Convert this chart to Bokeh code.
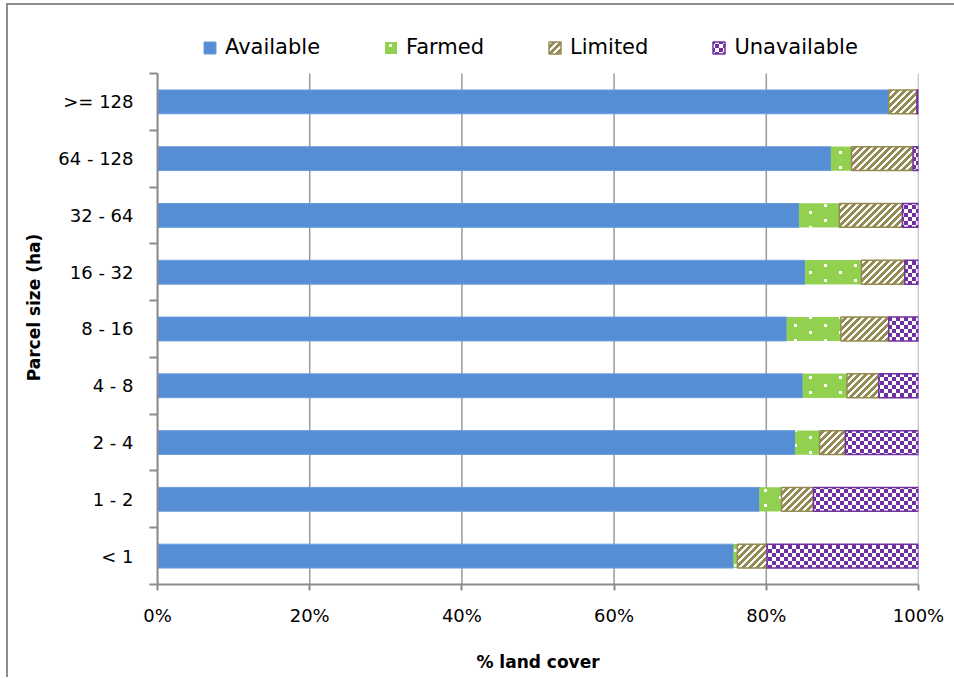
import zlib, struct, base64
from bokeh.plotting import figure
from bokeh.models import (Range1d, FixedTicker, Legend, LegendItem, ColumnDataSource,
                          ImageURLTexture, PrintfTickFormatter)
from bokeh.core.properties import value
from bokeh.embed import file_html
from bokeh.resources import INLINE

# ---- data (percent of land cover) ----
categories = ["< 1", "1 - 2", "2 - 4", "4 - 8", "8 - 16", "16 - 32", "32 - 64", "64 - 128", ">= 128"]
available = [75.7, 79.1, 83.8, 84.8, 82.7, 85.1, 84.3, 88.5, 96.1]
farmed = [0.5, 2.9, 3.2, 5.8, 7.1, 7.4, 5.3, 2.7, 0.0]
limited = [3.9, 4.2, 3.4, 4.2, 6.3, 5.7, 8.3, 8.1, 3.7]
unavailable = [19.9, 13.8, 9.6, 5.2, 3.9, 1.8, 2.1, 0.7, 0.2]
series_names = ["Available", "Farmed", "Limited", "Unavailable"]
x_ticks = [0, 20, 40, 60, 80, 100]

FONT = "DejaVu Sans"
AXIS_GRAY = "#8c8c8c"
N = len(categories)
TOP_PAD = 0.757  # room above the bars (in category units) for the legend


def png_data_url(w, h, pixel_fn):
    raw = bytearray()
    for yy in range(h):
        raw += b"\x00"
        for xx in range(w):
            raw += bytes(pixel_fn(xx, yy))

    def chunk(t, d):
        c = struct.pack(">I", len(d)) + t + d
        return c + struct.pack(">I", zlib.crc32(t + d) & 0xffffffff)

    png = (b"\x89PNG\r\n\x1a\n"
           + chunk(b"IHDR", struct.pack(">IIBBBBB", w, h, 8, 6, 0, 0, 0))
           + chunk(b"IDAT", zlib.compress(bytes(raw)))
           + chunk(b"IEND", b""))
    return "data:image/png;base64," + base64.b64encode(png).decode()


GREEN = (146, 208, 80, 255)
WHITE = (255, 255, 255, 255)
PURPLE = (112, 48, 160, 255)
OLIVE = (148, 138, 84, 255)
DOTS = [(6, 4), (21, 11), (6, 19), (21, 26)]


def farm_px(x, y):
    for dx, dy in DOTS:
        if dx <= x < dx + 3 and dy <= y < dy + 3:
            return WHITE
    return GREEN


def check_px(x, y):
    return PURPLE if ((x // 4) + (y // 4)) % 2 == 0 else WHITE


def stripe_px(x, y):
    # "/" stripes, period 7 px, ~half olive
    return OLIVE if ((x + y) % 7) < 4 else WHITE


farm_tex = ImageURLTexture(url=png_data_url(30, 30, farm_px))
check_tex = ImageURLTexture(url=png_data_url(8, 8, check_px))
stripe_tex = ImageURLTexture(url=png_data_url(7, 7, stripe_px))

centers = [i + 0.5 for i in range(N)]
bounds = [float(i) for i in range(N + 1)]

data = {"y": centers}
cum = [0.0] * N
for name, vals in zip(series_names, [available, farmed, limited, unavailable]):
    data[name + "_l"] = list(cum)
    cum = [c + v for c, v in zip(cum, vals)]
    data[name + "_r"] = list(cum)
src = ColumnDataSource(data)

p = figure(frame_width=761, frame_height=554, x_range=Range1d(0, 100), y_range=Range1d(0, N + TOP_PAD),
           output_backend="svg", toolbar_location=None,
           min_border_left=149, min_border_right=36, min_border_top=25, min_border_bottom=93)
p.outline_line_color = None
p.background_fill_color = "white"
p.border_fill_color = "white"
p.styles = {"margin-left": "6px", "margin-top": "3px",
            "border-left": "2px solid #8c8c8c", "border-top": "2px solid #8c8c8c"}

# x axis
p.xaxis.ticker = FixedTicker(ticks=x_ticks)
p.xaxis.formatter = PrintfTickFormatter(format="%d%%")
p.xaxis.axis_line_color = AXIS_GRAY
p.xaxis.axis_line_width = 2
p.xaxis.major_tick_line_color = AXIS_GRAY
p.xaxis.major_tick_line_width = 2
p.xaxis.major_tick_out = 6
p.xaxis.major_tick_in = 0
p.xaxis.minor_tick_line_color = None
p.xaxis.major_label_text_font = FONT
p.xaxis.major_label_text_font_size = "18px"
p.xaxis.major_label_text_color = "black"
p.xaxis.major_label_standoff = 14
p.xaxis.axis_label = "% land cover"
p.xaxis.axis_label_text_font = FONT
p.xaxis.axis_label_text_font_style = "bold"
p.xaxis.axis_label_text_font_size = "17px"
p.xaxis.axis_label_text_color = "black"
p.xaxis.axis_label_standoff = 23

# y axis
p.yaxis.bounds = (0, N)
p.yaxis.ticker = FixedTicker(ticks=centers, minor_ticks=bounds)
p.yaxis.major_label_overrides = {c: lab for c, lab in zip(centers, categories)}
p.yaxis.axis_line_color = AXIS_GRAY
p.yaxis.axis_line_width = 2
p.yaxis.major_tick_line_color = None
p.yaxis.major_tick_out = 0
p.yaxis.major_tick_in = 0
p.yaxis.minor_tick_line_color = AXIS_GRAY
p.yaxis.minor_tick_line_width = 2
p.yaxis.minor_tick_out = 8
p.yaxis.minor_tick_in = 0
p.yaxis.major_label_text_font = FONT
p.yaxis.major_label_text_font_size = "18px"
p.yaxis.major_label_text_color = "black"
p.yaxis.major_label_standoff = 16
p.yaxis.axis_label = "Parcel size (ha)"
p.yaxis.axis_label_text_font = FONT
p.yaxis.axis_label_text_font_style = "bold"
p.yaxis.axis_label_text_font_size = "17px"
p.yaxis.axis_label_text_color = "black"
p.yaxis.axis_label_standoff = 11

p.xgrid.visible = False
p.ygrid.visible = False
# vertical gridlines, only over the category area
p.segment(x0=x_ticks, y0=[0] * len(x_ticks), x1=x_ticks, y1=[N] * len(x_ticks),
          line_color="#9a9a9a", line_width=1.5)

BAR_H = 0.42

r_av = p.hbar(y="y", left="Available_l", right="Available_r", height=BAR_H, source=src,
              fill_color="#558ED5", line_color="#6a9cdc", line_width=1)
r_fa = p.hbar(y="y", left="Farmed_l", right="Farmed_r", height=BAR_H, source=src,
              fill_color="#92D050", line_color=None,
              hatch_pattern=value("farm"), hatch_extra={"farm": farm_tex},
              hatch_color="white", hatch_scale=30, hatch_weight=1)
r_li = p.hbar(y="y", left="Limited_l", right="Limited_r", height=BAR_H, source=src,
              fill_color="white", line_color="#948A54", line_width=1.5,
              hatch_pattern=value("stripe"), hatch_extra={"stripe": stripe_tex},
              hatch_color="#948A54", hatch_scale=7, hatch_weight=1)
r_un = p.hbar(y="y", left="Unavailable_l", right="Unavailable_r", height=BAR_H, source=src,
              fill_color="white", line_color="#7030A0", line_width=1.5,
              hatch_pattern=value("check"), hatch_extra={"check": check_tex},
              hatch_color="#7030A0", hatch_scale=8, hatch_weight=1)

legend = Legend(items=[LegendItem(label=n, renderers=[r]) for n, r in
                       zip(series_names, [r_av, r_fa, r_li, r_un])],
                orientation="horizontal", location=(45, 525),
                glyph_width=15, glyph_height=15, label_standoff=8, spacing=63,
                padding=0, margin=0, border_line_color=None, background_fill_alpha=0,
                label_text_font=FONT, label_text_font_size="21px", label_text_color="black")
p.add_layout(legend, "center")

open("out.html", "w").write(file_html(p, INLINE))
